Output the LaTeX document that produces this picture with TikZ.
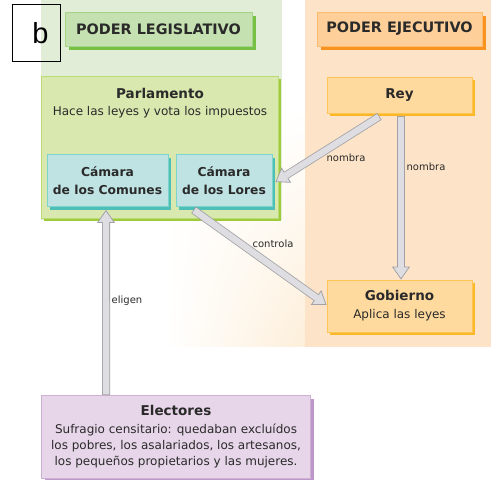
\documentclass[tikz,border=0pt]{standalone}
\usepackage{fontspec}
\setmainfont{DejaVu Sans}
\newfontfamily\letterfont{Liberation Sans}
\usetikzlibrary{arrows.meta,shadings}
\definecolor{txt}{HTML}{2A2A2A}
\definecolor{legisbg}{HTML}{E1EDD6}
\definecolor{ejecbg}{HTML}{FDE4C8}
\definecolor{fadebg}{HTML}{FDEFDA}
\definecolor{hdgfill}{HTML}{C5E1B1}
\definecolor{hdgline}{HTML}{A5D488}
\definecolor{hdgshadow}{HTML}{76C043}
\definecolor{hdofill}{HTML}{FFCF9A}
\definecolor{hdoline}{HTML}{FFBA6B}
\definecolor{hdoshadow}{HTML}{F7931E}
\definecolor{parlfill}{HTML}{D9E8AE}
\definecolor{parlline}{HTML}{BADC72}
\definecolor{parlshadow}{HTML}{9DCB3B}
\definecolor{camfill}{HTML}{BFE3E2}
\definecolor{camline}{HTML}{7DD4CD}
\definecolor{camshadow}{HTML}{4DBFB7}
\definecolor{reyfill}{HTML}{FFDA9E}
\definecolor{reyline}{HTML}{FFC555}
\definecolor{reyshadow}{HTML}{FDB827}
\definecolor{elfill}{HTML}{E7D6E9}
\definecolor{elline}{HTML}{CDB0D3}
\definecolor{elshadow}{HTML}{BD97C8}
\definecolor{arrfill}{HTML}{DEDEE2}
\definecolor{arredge}{HTML}{A2A2A6}
\newcommand\titlef{\fontsize{13.5}{16}\selectfont\bfseries}
\tikzset{
  box/.style n args={3}{draw=#2, fill=#1, line width=0.8pt, text=txt, align=center, inner sep=0pt,
    preaction={fill=#3, transform canvas={xshift=3pt, yshift=-3pt}}},
  hdrbox/.style n args={3}{draw=#2, fill=#1, line width=0.8pt, text=txt, inner sep=0pt,
    font=\fontsize{14.4}{17}\selectfont\bfseries,
    preaction={fill=#3, transform canvas={xshift=4pt, yshift=-4pt}}},
  body/.style={font=\fontsize{12}{16}\selectfont},
  camtxt/.style={font=\fontsize{12.3}{18}\selectfont\bfseries},
  fat/.style={line width=8pt, draw=arredge,
    -{Triangle[length=13pt, width=18pt, fill=arrfill, line width=0.8pt]},
    postaction={draw=arrfill, line width=6.4pt, -, shorten >=12pt, shorten <=0.8pt}},
  lbl/.style={text=txt, inner sep=0pt, font=\fontsize{10}{12}\selectfont}
}
\begin{document}
\begin{tikzpicture}[x=1pt, y=-1pt]
				\useasboundingbox (0,0) rectangle (491,480);
				\shade[upper left=white, upper right=white, lower left=white, lower right=fadebg] (165,110) rectangle (305,346);
				\fill[legisbg] (41,0) rectangle (282,220);
				\fill[ejecbg] (305,0) rectangle (491,347);
				\node[draw=black, line width=0.9pt, minimum width=48pt, minimum height=57pt, inner sep=0pt] (letra) at (36,33) {\letterfont\fontsize{29}{30}\selectfont\hspace*{9pt}b};
				\node[hdrbox={hdgfill}{hdgline}{hdgshadow}, minimum width=187pt, minimum height=34pt] (legis) at (158.5,29) {PODER LEGISLATIVO};
				\node[hdrbox={hdofill}{hdoline}{hdoshadow}, minimum width=165pt, minimum height=34pt] (ejec) at (399.5,29) {PODER EJECUTIVO};
				\node[box={parlfill}{parlline}{parlshadow}, minimum width=237pt, minimum height=142pt] (parl) at (159.5,147) {};
				\node[text=txt, align=center, inner sep=0pt, font=\fontsize{12}{17.5}\selectfont] (parltxt) at (160,103) {{\titlef Parlamento}\\Hace las leyes y vota los impuestos};
				\node[box={camfill}{camline}{camshadow}, camtxt, minimum width=121pt, minimum height=52pt] (comunes) at (107.5,180.5) {Cámara\\de los Comunes};
				\node[box={camfill}{camline}{camshadow}, camtxt, minimum width=96pt, minimum height=52pt] (lores) at (224,180.5) {Cámara\\de los Lores};
				\node[box={reyfill}{reyline}{reyshadow}, font=\titlef, minimum width=145pt, minimum height=36pt] (rey) at (399.5,95) {Rey};
				\node[box={reyfill}{reyline}{reyshadow}, font=\fontsize{12}{18}\selectfont, minimum width=145pt, minimum height=52pt] (gob) at (399.5,306) {{\titlef Gobierno}\\Aplica las leyes};
				\node[box={elfill}{elline}{elshadow}, body, minimum width=269pt, minimum height=83pt] (elect) at (176,437) {{\titlef Electores}\\[2pt]Sufragio censitario: quedaban excluídos\\los pobres, los asalariados, los artesanos,\\los pequeños propietarios y las mujeres.};
				\draw[fat] ([xshift=-20pt, yshift=-3pt]rey.south) -- ([xshift=3pt, yshift=-1.5pt]lores.east);
				\draw[fat] ([xshift=1.5pt, yshift=-3pt]rey.south) -- ([xshift=1.5pt]gob.north);
				\draw[fat] ([xshift=18pt, yshift=-3pt]lores.south west) -- ([yshift=1pt]gob.west);
				\draw[fat] ([xshift=65pt]elect.north west) -- ([xshift=-1.5pt, yshift=-3pt]comunes.south);
				\node[lbl] (nombra1) at (346,158) {nombra};
				\node[lbl] (nombra2) at (426,167) {nombra};
				\node[lbl] (controla) at (273,244) {controla};
				\node[lbl] (eligen) at (127,301) {eligen};
		\end{tikzpicture}
\end{document}
